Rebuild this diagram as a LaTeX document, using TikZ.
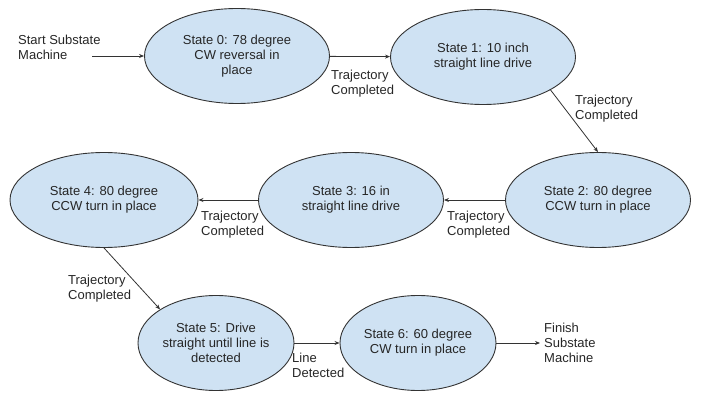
\documentclass[tikz,border=0pt]{standalone}
\usepackage{fontspec}
\setmainfont{Liberation Sans}
\usetikzlibrary{shapes.geometric,arrows.meta}
\definecolor{stfill}{HTML}{CFE2F3}
\definecolor{stline}{HTML}{333333}
\begin{document}
\begin{tikzpicture}[x=1pt,y=-1pt,
  state/.style={ellipse,draw=stline,line width=0.9pt,fill=stfill,inner sep=0pt,
    minimum width=185pt,minimum height=95pt,align=center,
    font=\fontsize{13}{15}\selectfont,text=black!85},
  lbl/.style={align=left,anchor=north west,inner sep=0pt,
    font=\fontsize{13}{15}\selectfont,text=black!85},
  conn/.style={draw=stline,line width=0.8pt,-{Stealth[length=5pt,width=4pt]}}]
\useasboundingbox (0,0) rectangle (726,406);
\node[state] (s0) at (237,56) {State 0: 78 degree\\CW reversal in\\place};
\node[state] (s1) at (483,57) {State 1: 10 inch\\straight line drive};
\node[state] (s2) at (598,200) {State 2: 80 degree\\CCW turn in place};
\node[state] (s3) at (351,200) {State 3: 16 in\\straight line drive};
\node[state,minimum width=188pt] (s4) at (104,200) {State 4: 80 degree\\CCW turn in place};
\node[state,minimum width=156pt] (s5) at (216,343) {State 5: Drive\\straight until line is\\detected};
\node[state,minimum width=156pt] (s6) at (418,343) {State 6: 60 degree\\CW turn in place};

\node[lbl,anchor=west] (start) at (18,47) {Start Substate\\Machine};
\coordinate (startend) at (92,56);
\node[lbl,anchor=west] (finish) at (544,343) {Finish\\Substate\\Machine};
\coordinate (finend) at (540,343);

\draw[conn] (startend) -- (s0);
\draw[conn] (s0) -- (s1);
\draw[conn] (s1.-26) -- (s2.north);
\draw[conn] (s2) -- (s3);
\draw[conn] (s3) -- (s4);
\draw[conn] (s4.south) -- (s5.149);
\draw[conn] (s5) -- (s6);
\draw[conn] (s6) -- (finend);

\node[lbl] (l01) at (331,70) {Trajectory\\Completed};
\node[lbl] (l12) at (575,95) {Trajectory\\Completed};
\node[lbl] (l23) at (447,211) {Trajectory\\Completed};
\node[lbl] (l34) at (201,211) {Trajectory\\Completed};
\node[lbl] (l45) at (68,275) {Trajectory\\Completed};
\node[lbl] (l56) at (292,353) {Line\\Detected};
\end{tikzpicture}
\end{document}
